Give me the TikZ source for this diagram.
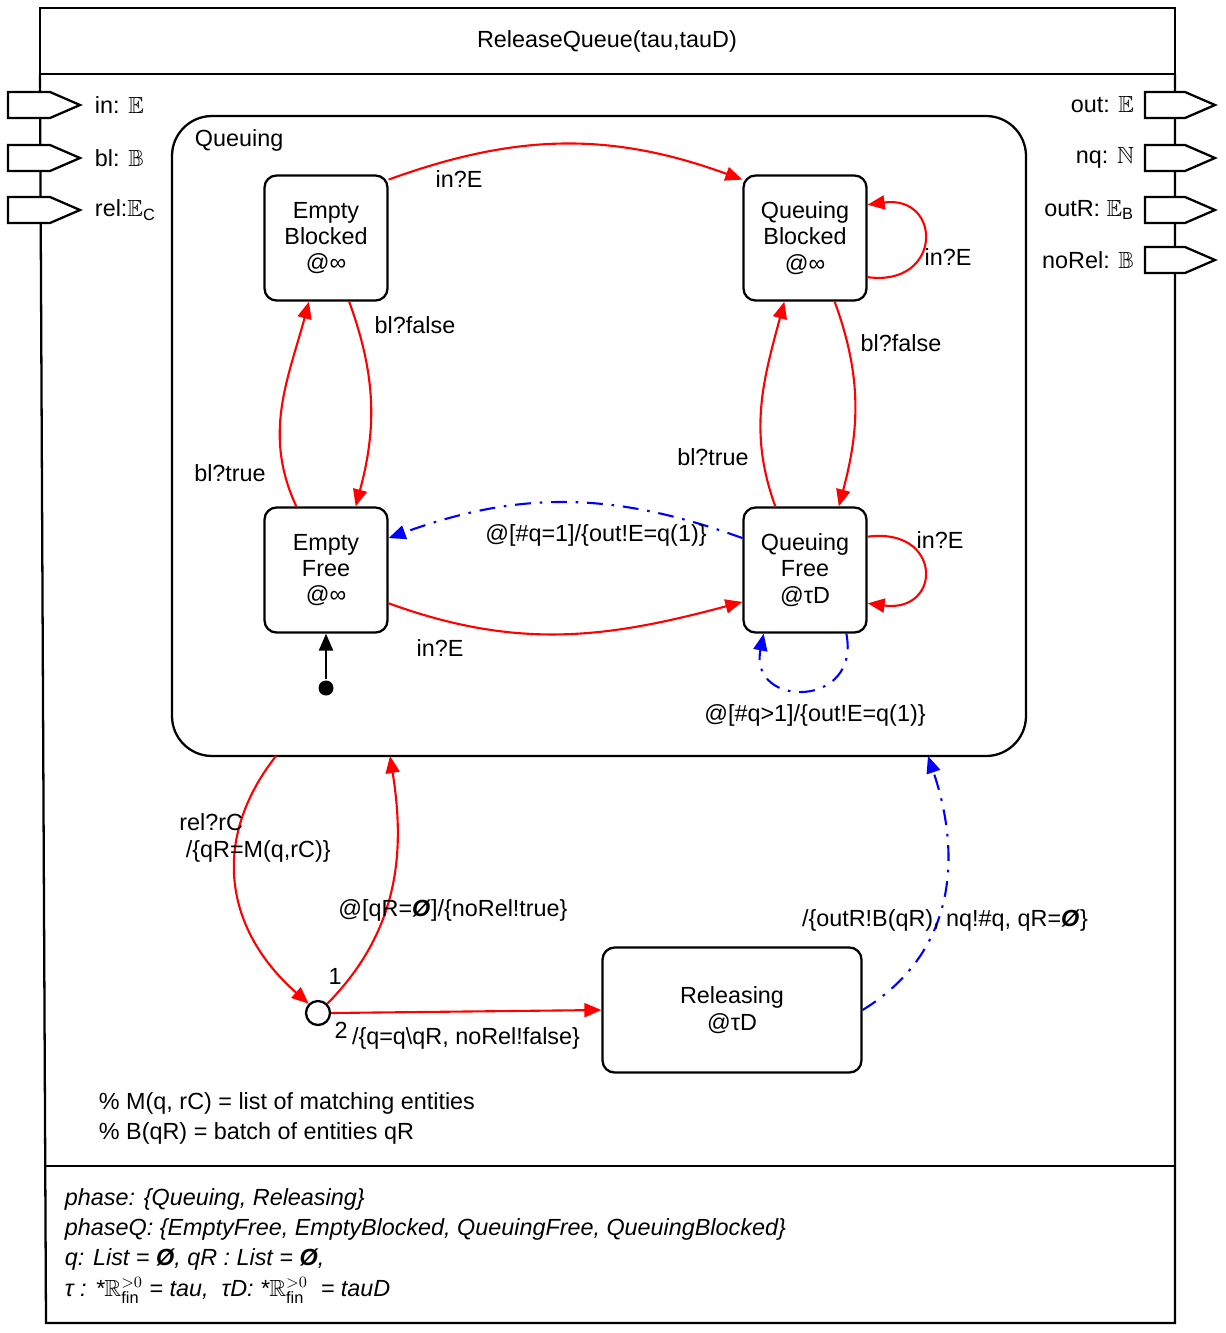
\documentclass[tikz,border=0pt]{standalone}
\usepackage{amsmath}
\usepackage{amssymb}
\usepackage{fontspec}
\setmainfont{Liberation Sans}
\usetikzlibrary{positioning, arrows.meta, calc}

\newcommand{\emptyb}{\textbf{\textit{Ø}}}

\tikzset{
    state/.style={draw, line width=1.3pt, rounded corners=0.24cm, align=center,
        minimum width=2.46cm, minimum height=2.5cm, fill=white},
    port/.style={draw, line width=1.3pt, fill=white},
    tr/.style={red, line width=1.2pt, -{Triangle[length=3.4mm,width=2.8mm]}},
    emit/.style={blue, line width=1.2pt, dash pattern=on 9pt off 5pt on 1.5pt off 5pt,
        -{Triangle[length=3.4mm,width=2.8mm]}},
    lbl/.style={inner sep=1pt}
}

\begin{document}
\begin{tikzpicture}[x=0.02cm, y=-0.02cm, font=\fontsize{13.3}{15}\selectfont, line width=1.3pt]
    \useasboundingbox (0,0) rectangle (1225,1333);

    % Outer block
    \draw (40,8) rectangle (1175,74);
    \node at (607,41) {ReleaseQueue(tau,tauD)};
    \draw (40,74) -- (46,1323) -- (1175,1323) -- (1175,74);
    \draw (46,1166) -- (1175,1166);

    % Ports
    \foreach \y/\t in {105/{in: $\mathbb{E}$}, 158/{bl: $\mathbb{B}$}, 210/{rel:$\mathbb{E}_{\mathrm{C}}$}} {
        \draw [port] (8,\y-13) -- (50,\y-13) -- (80,\y) -- (50,\y+13) -- (8,\y+13) -- cycle;
        \node [anchor=west] at (88,\y) {\t};
    }
    \foreach \y/\t in {105/{out: $\mathbb{E}$}, 158/{nq: $\mathbb{N}$}, 210/{outR: $\mathbb{E}_{\mathrm{B}}$}, 260/{noRel: $\mathbb{B}$}} {
        \draw [port] (1145,\y-13) -- (1185,\y-13) -- (1215,\y) -- (1185,\y+13) -- (1145,\y+13) -- cycle;
        \node [anchor=east] at (1141,\y) {\t};
    }

    % Queuing superstate
    \draw [rounded corners=0.8cm] (172,116) rectangle (1026,756);
    \node [anchor=west] at (188,140) {Queuing};
    \coordinate (qIn) at (276,756);
    \coordinate (qBack) at (390,756);
    \coordinate (qRet) at (928,756);

    % States
    \node [state] (EB) at (326,238) {Empty\\Blocked\\@∞};
    \node [state] (QB) at (805,238) {Queuing\\Blocked\\@∞};
    \node [state] (EF) at (326,570) {Empty\\Free\\@∞};
    \node [state] (QF) at (805,570) {Queuing\\Free\\@τD};
    \node [state, minimum width=5.18cm] (RL) at (732,1010) {Releasing\\@τD};
    \node [circle, fill, inner sep=0pt, minimum size=0.3cm] (init) at (326,688) {};
    \node [circle, draw, fill=white, inner sep=0pt, minimum size=0.48cm] (J) at (318,1013) {};

    % Transitions inside Queuing
    \draw [tr] (EB.43) to [out=20, in=160] (QB.137);
    \node [lbl] at (459,179) {in?E};
    \draw [tr] (QB.-32) .. controls +(75,10) and +(75,-10) .. (QB.28);
    \node [lbl] at (948,257) {in?E};
    \draw [tr] (EB.-70) to [out=-70, in=75] (EF.65);
    \node [lbl] at (415,325) {bl?false};
    \draw [tr] (EF.115) to [out=115, in=-105] (EB.-105);
    \node [lbl] at (230,473) {bl?true};
    \draw [tr] (QB.-65) to [out=-70, in=75] (QF.62);
    \node [lbl] at (901,343) {bl?false};
    \draw [tr] (QF.115) to [out=110, in=-105] (QB.-108);
    \node [lbl] at (713,457) {bl?true};
    \draw [emit] (QF.153) to [out=160, in=20] (EF.27);
    \node [lbl] at (596,535) {@[\#q=1]/\{out!E=q(1)\}};
    \draw [tr] (EF.-28) to [out=-20, in=195] (QF.-153);
    \node [lbl] at (440,648) {in?E};
    \draw [tr] (QF.28) .. controls +(75,-10) and +(75,10) .. (QF.-28);
    \node [lbl] at (940,540) {in?E};
    \draw [emit] (QF.-57) .. controls +(15,75) and +(-15,75) .. (QF.-123);
    \node [lbl] at (815,715) {@[\#q>1]/\{out!E=q(1)\}};
    \draw [-{Triangle[length=3.4mm,width=2.8mm]}] (init) -- (EF);

    % Releasing loop
    \draw [tr] (qIn) .. controls (210,840) and (225,930) .. (J.135);
    \node [lbl, align=left] at (255,838) {rel?rC\\\ /\{qR=M(q,rC)\}};
    \draw [tr] (J.45) .. controls (400,930) and (405,850) .. (qBack);
    \node [lbl] at (335,976) {1};
    \node [lbl] at (453,910) {@[qR=\emptyb]/\{noRel!true\}};
    \draw [tr] (J.east) -- (RL.west);
    \node [lbl] at (341,1030) {2};
    \node [lbl] at (466,1038) {/\{q=q\textbackslash qR, noRel!false\}};
    \draw [emit] (RL.east) .. controls (960,950) and (960,850) .. (qRet);
    \node [lbl] at (945,920) {/\{outR!B(qR), nq!\#q, qR=\emptyb\}};

    % Comments
    \node [anchor=west] at (92,1103) {\% M(q, rC) = list of matching entities};
    \node [anchor=west] at (92,1133) {\% B(qR) = batch of entities qR};

    % Variables
    \node [anchor=west, align=left, font=\fontsize{13.3}{17}\selectfont\itshape] at (58,1246)
        {phase: \{Queuing, Releasing\}\\
         phaseQ: \{EmptyFree, EmptyBlocked, QueuingFree, QueuingBlocked\}\\
         q: List = \emptyb , qR : List = \emptyb,\\[1pt]
         τ : *$\mathbb{R}^{>0}_{\mathrm{fin}}$ = tau,\ \ τD: *$\mathbb{R}^{>0}_{\mathrm{fin}}$\ \ = tauD};
\end{tikzpicture}
\end{document}
